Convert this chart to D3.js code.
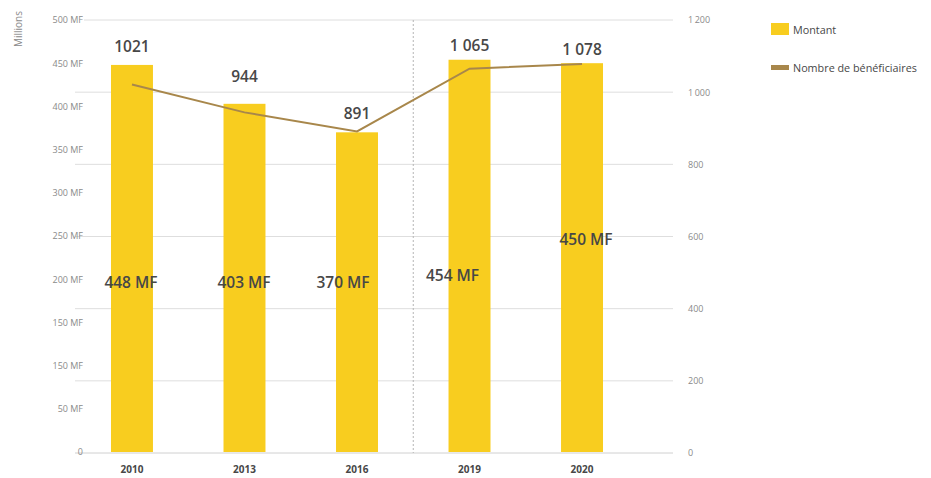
<!DOCTYPE html>
<html>
<head>
<meta charset="utf-8">
<script src="https://cdn.jsdelivr.net/npm/d3@7"></script>
<style>
  html, body { margin: 0; padding: 0; background: #fff; }
  svg { display: block; font-family: "Open Sans", "Noto Sans", sans-serif; }
</style>
</head>
<body>
<svg id="chart" width="931" height="478"></svg>
<script>
// Years shown on the x axis
const years = ["2010", "2013", "2016", "2019", "2020"];
// Amount paid, in millions (left axis, bars)
const amounts = [448, 403, 370, 454, 450];
const amountLabels = ["448 MF", "403 MF", "370 MF", "454 MF", "450 MF"];
// Number of beneficiaries (right axis, line)
const counts = [1021, 944, 891, 1065, 1078];
const countLabels = ["1021", "944", "891", "1 065", "1 078"];
// Left axis tick values and their printed labels
const leftTicks = [0, 50, 100, 150, 200, 250, 300, 350, 400, 450, 500];
const leftTickLabels = ["0", "50 MF", "150 MF", "150 MF", "200 MF", "250 MF", "300 MF", "350 MF", "400 MF", "450 MF", "500 MF"];
// Right axis ticks
const rightTicks = [0, 200, 400, 600, 800, 1000, 1200];
// Legend entries
const legendLabels = ["Montant", "Nombre de bénéficiaires"];

const barColor = "#F8CD1F";
const lineColor = "#A8874B";
const textDark = "#474747";
const tickGrey = "#8a8a8a";
const gridGrey = "#dedede";

const svg = d3.select("#chart");

const x = d3.scaleBand().domain(years).range([76, 638])
  .paddingInner(0.627).paddingOuter(0.311);
const yLeft = d3.scaleLinear().domain([0, 500]).range([452, 20]);
const yRight = d3.scaleLinear().domain([0, 1200]).range([453, 20]);

const gridX0 = 75, gridX1 = 673;

// Horizontal grid lines follow the right-hand scale
svg.append("g").selectAll("line")
  .data(rightTicks)
  .join("line")
  .attr("x1", d => d === rightTicks[rightTicks.length - 1] ? 84 : gridX0)
  .attr("x2", gridX1)
  .attr("y1", d => yRight(d)).attr("y2", d => yRight(d))
  .attr("stroke", d => d === 0 ? "#d0d0d0" : gridGrey)
  .attr("stroke-width", 1);

// Dotted separator between 2016 and 2019
const sepX = (x("2016") + x.bandwidth() + x("2019")) / 2;
svg.append("line")
  .attr("x1", sepX).attr("x2", sepX)
  .attr("y1", yRight(1200)).attr("y2", yRight(0))
  .attr("stroke", "#b5b5b5").attr("stroke-width", 1)
  .attr("stroke-dasharray", "2,2");

// Left axis labels
const leftAxis = d3.axisLeft(yLeft)
  .tickValues(leftTicks)
  .tickFormat((d, i) => leftTickLabels[i])
  .tickSize(0).tickPadding(0);
const gl = svg.append("g").attr("transform", "translate(83,0)").call(leftAxis);
gl.select(".domain").remove();
gl.selectAll("text").attr("fill", tickGrey).attr("font-size", 9).attr("font-family", "Open Sans");

// Right axis labels
const rightAxis = d3.axisRight(yRight)
  .tickValues(rightTicks)
  .tickFormat(d => d === 0 ? "0" : d3.format(",")(d).replace(",", "\u2009"))
  .tickSize(0).tickPadding(0);
const gr = svg.append("g").attr("transform", "translate(688,0)").call(rightAxis);
gr.select(".domain").remove();
gr.selectAll("text").attr("fill", tickGrey).attr("font-size", 9).attr("font-family", "Open Sans");

// Axis title
svg.append("text")
  .attr("transform", "translate(22,29) rotate(-90)")
  .attr("text-anchor", "middle")
  .attr("fill", tickGrey).attr("font-size", 10)
  .text("Millions");

// Bars
svg.append("g").selectAll("rect")
  .data(years)
  .join("rect")
  .attr("x", d => x(d))
  .attr("width", x.bandwidth())
  .attr("y", (d, i) => yLeft(amounts[i]))
  .attr("height", (d, i) => yLeft(0) - yLeft(amounts[i]))
  .attr("fill", barColor);

// Beneficiaries line
const cx = d => x(d) + x.bandwidth() / 2;
svg.append("path")
  .datum(years)
  .attr("fill", "none")
  .attr("stroke", lineColor)
  .attr("stroke-width", 2)
  .attr("d", d3.line().x(d => cx(d)).y((d, i) => yRight(counts[i])));

// X axis labels
const bottomAxis = d3.axisBottom(x).tickSize(0).tickPadding(0);
const gb = svg.append("g").attr("transform", "translate(0,466)").call(bottomAxis);
gb.select(".domain").remove();
gb.selectAll("text").attr("fill", textDark).attr("font-size", 10)
  .attr("font-weight", 700).attr("font-family", "Open Sans");

// Count labels sit above whichever of bar or line is higher
const countNudge = [0, -9, 0, 4, 4];
svg.append("g").selectAll("text")
  .data(years)
  .join("text")
  .attr("x", d => cx(d))
  .attr("y", (d, i) => Math.min(yLeft(amounts[i]), yRight(counts[i])) - 18 + countNudge[i])
  .attr("dy", "0.35em")
  .attr("text-anchor", "middle")
  .attr("fill", textDark)
  .attr("font-size", 15.5).attr("font-weight", 600)
  .text((d, i) => countLabels[i]);

// Amount labels inside the bars
const amountOffset = [[-1, 0], [-0.5, 0], [-14, 0], [-17, -7], [4, -43]];
svg.append("g").selectAll("text")
  .data(years)
  .join("text")
  .attr("x", (d, i) => cx(d) + amountOffset[i][0])
  .attr("y", (d, i) => 283 + amountOffset[i][1])
  .attr("dy", "0.35em")
  .attr("text-anchor", "middle")
  .attr("fill", textDark)
  .attr("font-size", 15.5).attr("font-weight", 600)
  .text((d, i) => amountLabels[i]);

// Legend
const legend = svg.append("g").attr("transform", "translate(771,0)");
legend.append("rect").attr("x", 0).attr("y", 23).attr("width", 18).attr("height", 12).attr("fill", barColor);
legend.append("rect").attr("x", 0).attr("y", 65).attr("width", 18).attr("height", 5).attr("fill", lineColor);
legend.selectAll("text")
  .data(legendLabels)
  .join("text")
  .attr("x", 22)
  .attr("y", (d, i) => i === 0 ? 30 : 68)
  .attr("dy", "0.35em")
  .attr("fill", textDark)
  .attr("font-size", 10.8)
  .text(d => d);
</script>
</body>
</html>
